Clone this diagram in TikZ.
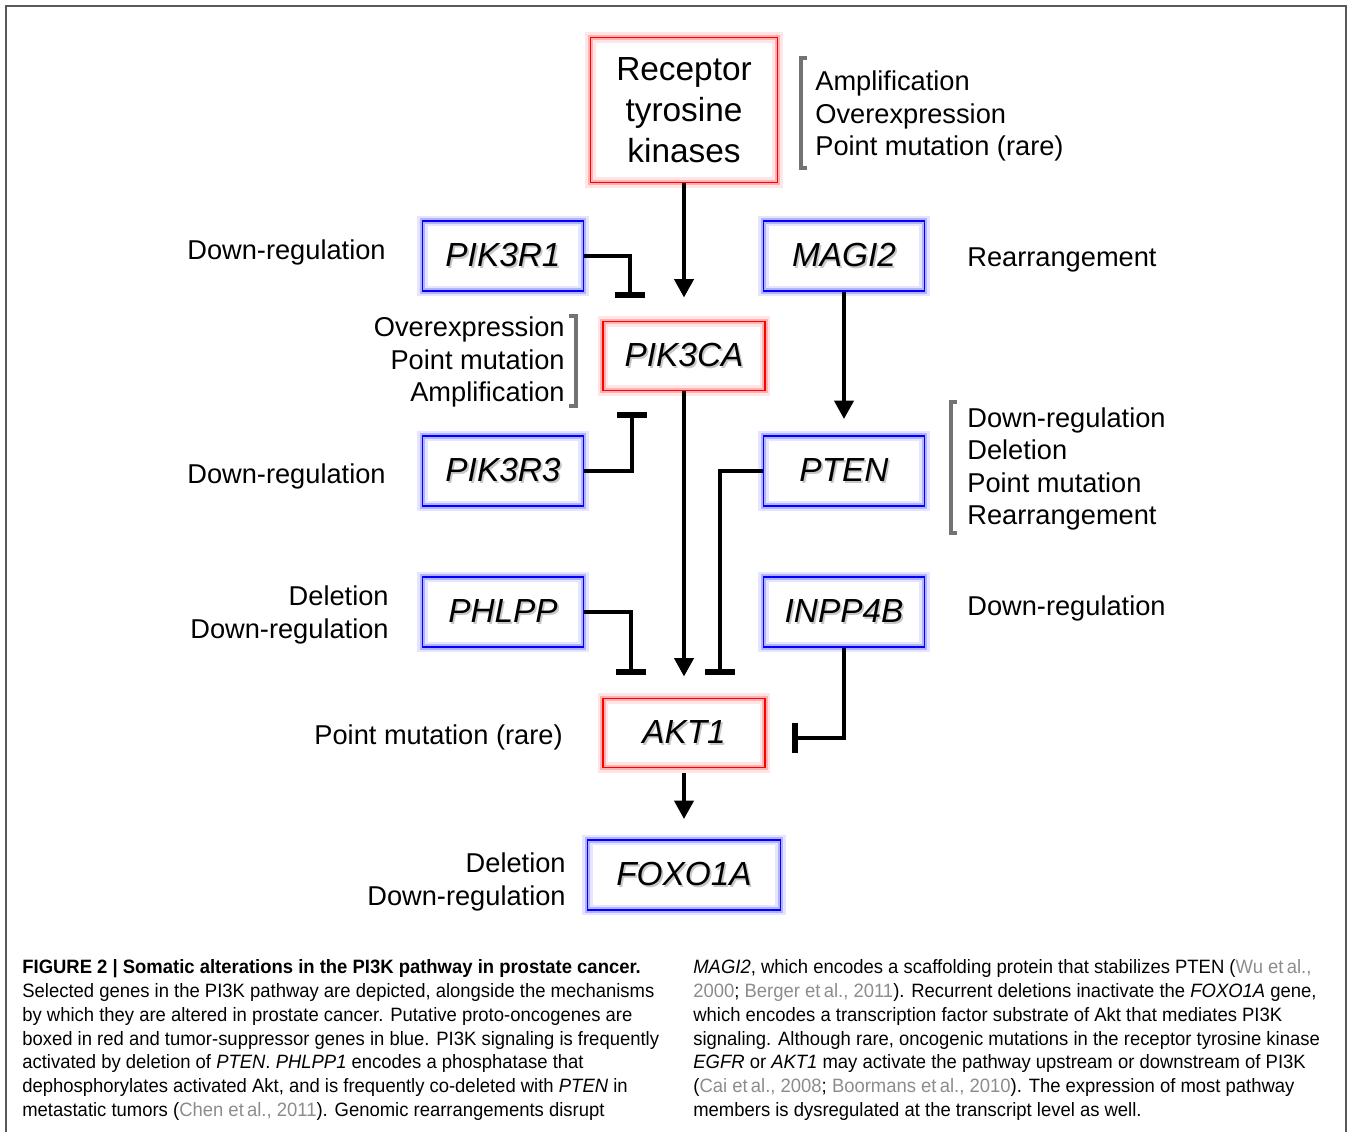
\documentclass[tikz,border=0pt]{standalone}
\usepackage{fontspec}
\setmainfont{Liberation Sans}
\newfontfamily\capfont[FakeStretch=0.955]{Liberation Sans}
\usetikzlibrary{positioning}
\usetikzlibrary{arrows.meta}
\definecolor{citegray}{gray}{0.55}
\newcommand\gene[1]{\rlap{\kern1pt\raisebox{-1.2pt}{\textcolor{black!22}{#1}}}#1}
\newcommand\refcite[1]{\textcolor{citegray}{#1}}

\tikzset{
  onco/.style={draw=red, line width=1.1pt, minimum width=3.24cm, minimum height=1.38cm,
    inner sep=0pt, font=\fontsize{19}{23}\selectfont\itshape,
    preaction={draw=red!10, line width=6pt}, preaction={draw=red!30, line width=3pt}},
  supp/.style={draw=blue, line width=1.1pt, minimum width=3.22cm, minimum height=1.4cm,
    inner sep=0pt, font=\fontsize{19}{23}\selectfont\itshape,
    preaction={draw=blue!10, line width=6pt}, preaction={draw=blue!30, line width=3pt}},
  mech/.style={inner sep=0pt, font=\fontsize{15.5}{18.3}\selectfont},
  act/.style={-{Triangle[length=0.37cm,width=0.38cm]}, line width=2.4pt},
  inh/.style={-{Bar[width=0.6cm, line width=1pt 1]}, line width=2.4pt},
  brk/.style={draw=black!55, line width=2pt},
  capt/.style={anchor=north west, inner sep=0pt, align=left,
    font=\capfont\fontsize{11}{13.6}\selectfont},
}

\begin{document}
\begin{tikzpicture}[x=0.02cm, y=-0.02cm]
    \useasboundingbox (0,0) rectangle (1349,1132);
    \draw[black!65, line width=1pt] (6,1132) -- (6,6) -- (1346,6) -- (1346,1132);

    \node[onco, minimum width=3.74cm, minimum height=2.9cm, align=center, font=\fontsize{19}{23.2}\selectfont] (rtk) at (684,110) {Receptor\\tyrosine\\kinases};
    \node[supp] (pik3r1) at (503,256) {\gene{PIK3R1}};
    \node[supp] (magi2) at (844,256) {\gene{MAGI2}};
    \node[onco] (pik3ca) at (684,356) {\gene{PIK3CA}};
    \node[supp] (pik3r3) at (503,471) {\gene{PIK3R3}};
    \node[supp] (pten) at (844,471) {\gene{PTEN}};
    \node[supp] (phlpp) at (503,612) {\gene{PHLPP}};
    \node[supp] (inpp4b) at (844,612) {\gene{INPP4B}};
    \node[onco] (akt1) at (684,733) {\gene{AKT1}};
    \node[supp, minimum width=3.86cm] (foxo1a) at (684,875) {\gene{FOXO1A}};

    \node[mech, anchor=west, align=left] (rtkalt) at (815,116) {Amplification\\Overexpression\\Point mutation (rare)};
    \node[mech, anchor=east] (r1alt) at (386,252) {Down-regulation};
    \node[mech, anchor=west] (magialt) at (967,260) {Rearrangement};
    \node[mech, anchor=east, align=right] (pi3kalt) at (565,362) {Overexpression\\Point mutation\\Amplification};
    \node[mech, anchor=east] (r3alt) at (386,476) {Down-regulation};
    \node[mech, anchor=west, align=left] (ptenalt) at (967,469) {Down-regulation\\Deletion\\Point mutation\\Rearrangement};
    \node[mech, anchor=east, align=right] (phalt) at (389,615) {Deletion\\Down-regulation};
    \node[mech, anchor=west] (inalt) at (967,608) {Down-regulation};
    \node[mech, anchor=east] (aktalt) at (563,737) {Point mutation (rare)};
    \node[mech, anchor=east, align=right] (foxalt) at (566,882) {Deletion\\Down-regulation};

    \draw[brk] (807,58) -- (801,58) -- (801,168) -- (807,168);
    \draw[brk] (569,316) -- (576,316) -- (576,406) -- (569,406);
    \draw[brk] (957,402) -- (951,402) -- (951,533) -- (957,533);

    \coordinate (r1bar) at (630,298);
    \coordinate (r3bar) at (632,412);
    \coordinate (ptenbar) at (720,675);
    \coordinate (phbar) at (631,675);
    \coordinate (inbar) at (792,738);

    \draw[act, shorten >=0.46cm] (rtk) -- (pik3ca);
    \draw[act, shorten >=0.32cm] (magi2) -- (pten);
    \draw[act, shorten >=0.42cm] (pik3ca) -- (akt1);
    \draw[act, shorten <=0.1cm, shorten >=0.4cm] (akt1) -- (foxo1a);
    \draw[inh] (pik3r1.east) -| (r1bar);
    \draw[inh] (pik3r3.east) -| (r3bar);
    \draw[inh] (pten.west) -| (ptenbar);
    \draw[inh] (phlpp.east) -| (phbar);
    \draw[inh] (inpp4b.south) |- (inbar);

    \node[capt] (capl) at (22,959) {\textbf{FIGURE 2 | Somatic alterations in the PI3K pathway in prostate cancer.}\\
      Selected genes in the PI3K pathway are depicted, alongside the mechanisms\\
      by which they are altered in prostate cancer. Putative proto-oncogenes are\\
      boxed in red and tumor-suppressor genes in blue. PI3K signaling is frequently\\
      activated by deletion of \textit{PTEN}. \textit{PHLPP1} encodes a phosphatase that\\
      dephosphorylates activated Akt, and is frequently co-deleted with \textit{PTEN} in\\
      metastatic tumors (\refcite{Chen et\,al., 2011}). Genomic rearrangements disrupt};
    \node[capt] (capr) at (693,959) {\textit{MAGI2}, which encodes a scaffolding protein that stabilizes PTEN (\refcite{Wu et\,al.,}\\
      \refcite{2000}; \refcite{Berger et\,al., 2011}). Recurrent deletions inactivate the \textit{FOXO1A} gene,\\
      which encodes a transcription factor substrate of Akt that mediates PI3K\\
      signaling. Although rare, oncogenic mutations in the receptor tyrosine kinase\\
      \textit{EGFR} or \textit{AKT1} may activate the pathway upstream or downstream of PI3K\\
      (\refcite{Cai et\,al., 2008}; \refcite{Boormans et\,al., 2010}). The expression of most pathway\\
      members is dysregulated at the transcript level as well.};
\end{tikzpicture}
\end{document}
